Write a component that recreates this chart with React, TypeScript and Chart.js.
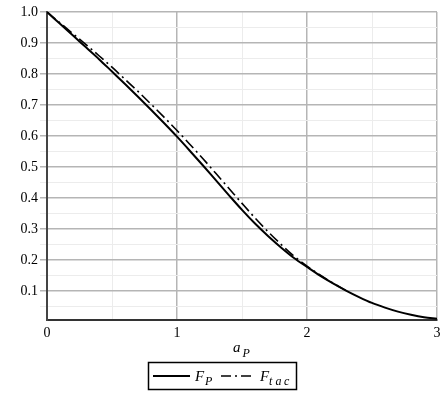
import React, { useEffect, useRef } from "react";
import { Chart, registerables } from "chart.js";
Chart.register(...registerables);

const xP = [0, 0.1, 0.2, 0.3, 0.4, 0.5, 0.6, 0.7, 0.8, 0.9, 1.0, 1.1, 1.2, 1.3, 1.4, 1.5, 1.6, 1.7, 1.8, 1.9, 2.0, 2.1, 2.2, 2.3, 2.4, 2.5, 2.6, 2.7, 2.8, 2.9, 3.0];
const fP = [1.0, 0.962, 0.924, 0.886, 0.848, 0.808, 0.768, 0.727, 0.685, 0.642, 0.598, 0.552, 0.505, 0.457, 0.409, 0.362, 0.318, 0.278, 0.241, 0.207, 0.178, 0.15, 0.125, 0.102, 0.081, 0.062, 0.047, 0.034, 0.024, 0.016, 0.011];
const xTac = [0, 0.1, 0.2, 0.3, 0.4, 0.5, 0.6, 0.7, 0.8, 0.9, 1.0, 1.1, 1.2, 1.3, 1.4, 1.5, 1.6, 1.7, 1.8, 1.9, 2.0, 2.1, 2.2, 2.3];
const fTac = [1.0, 0.965, 0.93, 0.895, 0.859, 0.822, 0.783, 0.744, 0.703, 0.661, 0.618, 0.573, 0.527, 0.479, 0.431, 0.383, 0.336, 0.292, 0.251, 0.213, 0.181, 0.152, 0.126, 0.102];

const xTicks = [0, 0.5, 1, 1.5, 2, 2.5, 3];
const yTicks = [0.05, 0.1, 0.15, 0.2, 0.25, 0.3, 0.35, 0.4, 0.45, 0.5, 0.55, 0.6, 0.65, 0.7, 0.75, 0.8, 0.85, 0.9, 0.95, 1.0];
const X_MIN = 0, X_MAX = 3, Y_MIN = 0.007, Y_MAX = 1.0;

const MAJOR = "#b5b5b5";
const MINOR = "#ececec";
const SERIF = '"Liberation Serif", "Times New Roman", serif';
const DASHDOT = [11, 4, 2, 4];

const isMult = (v: number, step: number) => Math.abs(v / step - Math.round(v / step)) < 1e-6;

const extras = {
  id: "extras",
  afterDraw(chart: any) {
    const ctx = chart.ctx as CanvasRenderingContext2D;
    const ca = chart.chartArea;
    ctx.save();
    ctx.fillStyle = "#000";
    ctx.textBaseline = "alphabetic";
    // x axis title a_P
    const cx = (ca.left + ca.right) / 2;
    ctx.font = `italic 15px ${SERIF}`;
    ctx.fillText("a", cx - 9, 352);
    ctx.font = `italic 12px ${SERIF}`;
    ctx.fillText("P", cx + 0.5, 357);

    // legend
    ctx.strokeStyle = "#000";
    ctx.lineWidth = 1.5;
    ctx.strokeRect(148.5, 362.5, 148, 27);
    ctx.lineWidth = 2;
    ctx.beginPath();
    ctx.moveTo(153, 376);
    ctx.lineTo(190, 376);
    ctx.stroke();
    ctx.font = `italic 15px ${SERIF}`;
    ctx.fillText("F", 195, 380.5);
    ctx.font = `italic 12px ${SERIF}`;
    ctx.fillText("P", 205, 385);
    ctx.lineWidth = 1.5;
    ctx.setLineDash([10, 4, 2, 4]);
    ctx.beginPath();
    ctx.moveTo(221, 376);
    ctx.lineTo(252, 376);
    ctx.stroke();
    ctx.setLineDash([]);
    ctx.font = `italic 15px ${SERIF}`;
    ctx.fillText("F", 260, 380.5);
    ctx.font = `italic 12px ${SERIF}`;
    ctx.fillText("t", 269, 385);
    ctx.fillText("a", 275.5, 385);
    ctx.fillText("c", 284, 385);
    ctx.restore();
  },
};

export default function App() {
  const ref = useRef<HTMLCanvasElement | null>(null);
  useEffect(() => {
    if (!ref.current) return;
    const chart = new Chart(ref.current, {
      type: "scatter",
      data: {
        datasets: [
          {
            label: "F_tac",
            data: xTac.map((x, i) => ({ x, y: fTac[i] })),
            showLine: true,
            borderColor: "#000",
            borderWidth: 1.6,
            borderDash: DASHDOT,
            pointRadius: 0,
            cubicInterpolationMode: "monotone",
            fill: false,
          },
          {
            label: "F_P",
            data: xP.map((x, i) => ({ x, y: fP[i] })),
            showLine: true,
            borderColor: "#000",
            borderWidth: 2,
            pointRadius: 0,
            cubicInterpolationMode: "monotone",
            fill: false,
          },
        ],
      },
      options: {
        responsive: false,
        animation: false,
        layout: { padding: { left: 0, top: 12, right: 10, bottom: 0 } },
        plugins: { legend: { display: false }, tooltip: { enabled: false }, title: { display: false } },
        scales: {
          x: {
            type: "linear",
            min: X_MIN,
            max: X_MAX,
            afterFit: (a: any) => { a.height = 78; },
            afterBuildTicks: (a: any) => { a.ticks = xTicks.map((v) => ({ value: v })); },
            grid: {
              drawTicks: false,
              color: (c: any) => (c.tick && isMult(c.tick.value, 1) ? MAJOR : MINOR),
              lineWidth: (c: any) => (c.tick && isMult(c.tick.value, 1) ? 1.5 : 1),
            },
            border: { color: "#333", width: 2 },
            ticks: {
              autoSkip: false,
              maxRotation: 0,
              padding: 5,
              color: "#000",
              font: { family: SERIF, size: 14 },
              callback: (v: any) => (isMult(Number(v), 1) ? String(Math.round(Number(v))) : ""),
            },
          },
          y: {
            type: "linear",
            min: Y_MIN,
            max: Y_MAX,
            afterFit: (a: any) => { a.width = 47; },
            afterBuildTicks: (a: any) => { a.ticks = yTicks.map((v) => ({ value: v })); },
            grid: {
              tickLength: 7,
              color: (c: any) => (c.tick && isMult(c.tick.value, 0.1) ? MAJOR : MINOR),
              lineWidth: (c: any) => (c.tick && isMult(c.tick.value, 0.1) ? 1.5 : 1),
            },
            border: { color: "#444", width: 2 },
            ticks: {
              autoSkip: false,
              padding: 2,
              color: "#000",
              font: { family: SERIF, size: 14 },
              callback: (v: any) => (isMult(Number(v), 0.1) ? Number(v).toFixed(1) : ""),
            },
          },
        },
      },
      plugins: [extras],
    });
    return () => chart.destroy();
  }, []);
  return (
    <div style={{ position: "fixed", left: 0, top: 0, width: 447, height: 398, background: "#fff" }}>
      <canvas ref={ref} width={447} height={398} style={{ width: 447, height: 398, display: "block" }} />
    </div>
  );
}
